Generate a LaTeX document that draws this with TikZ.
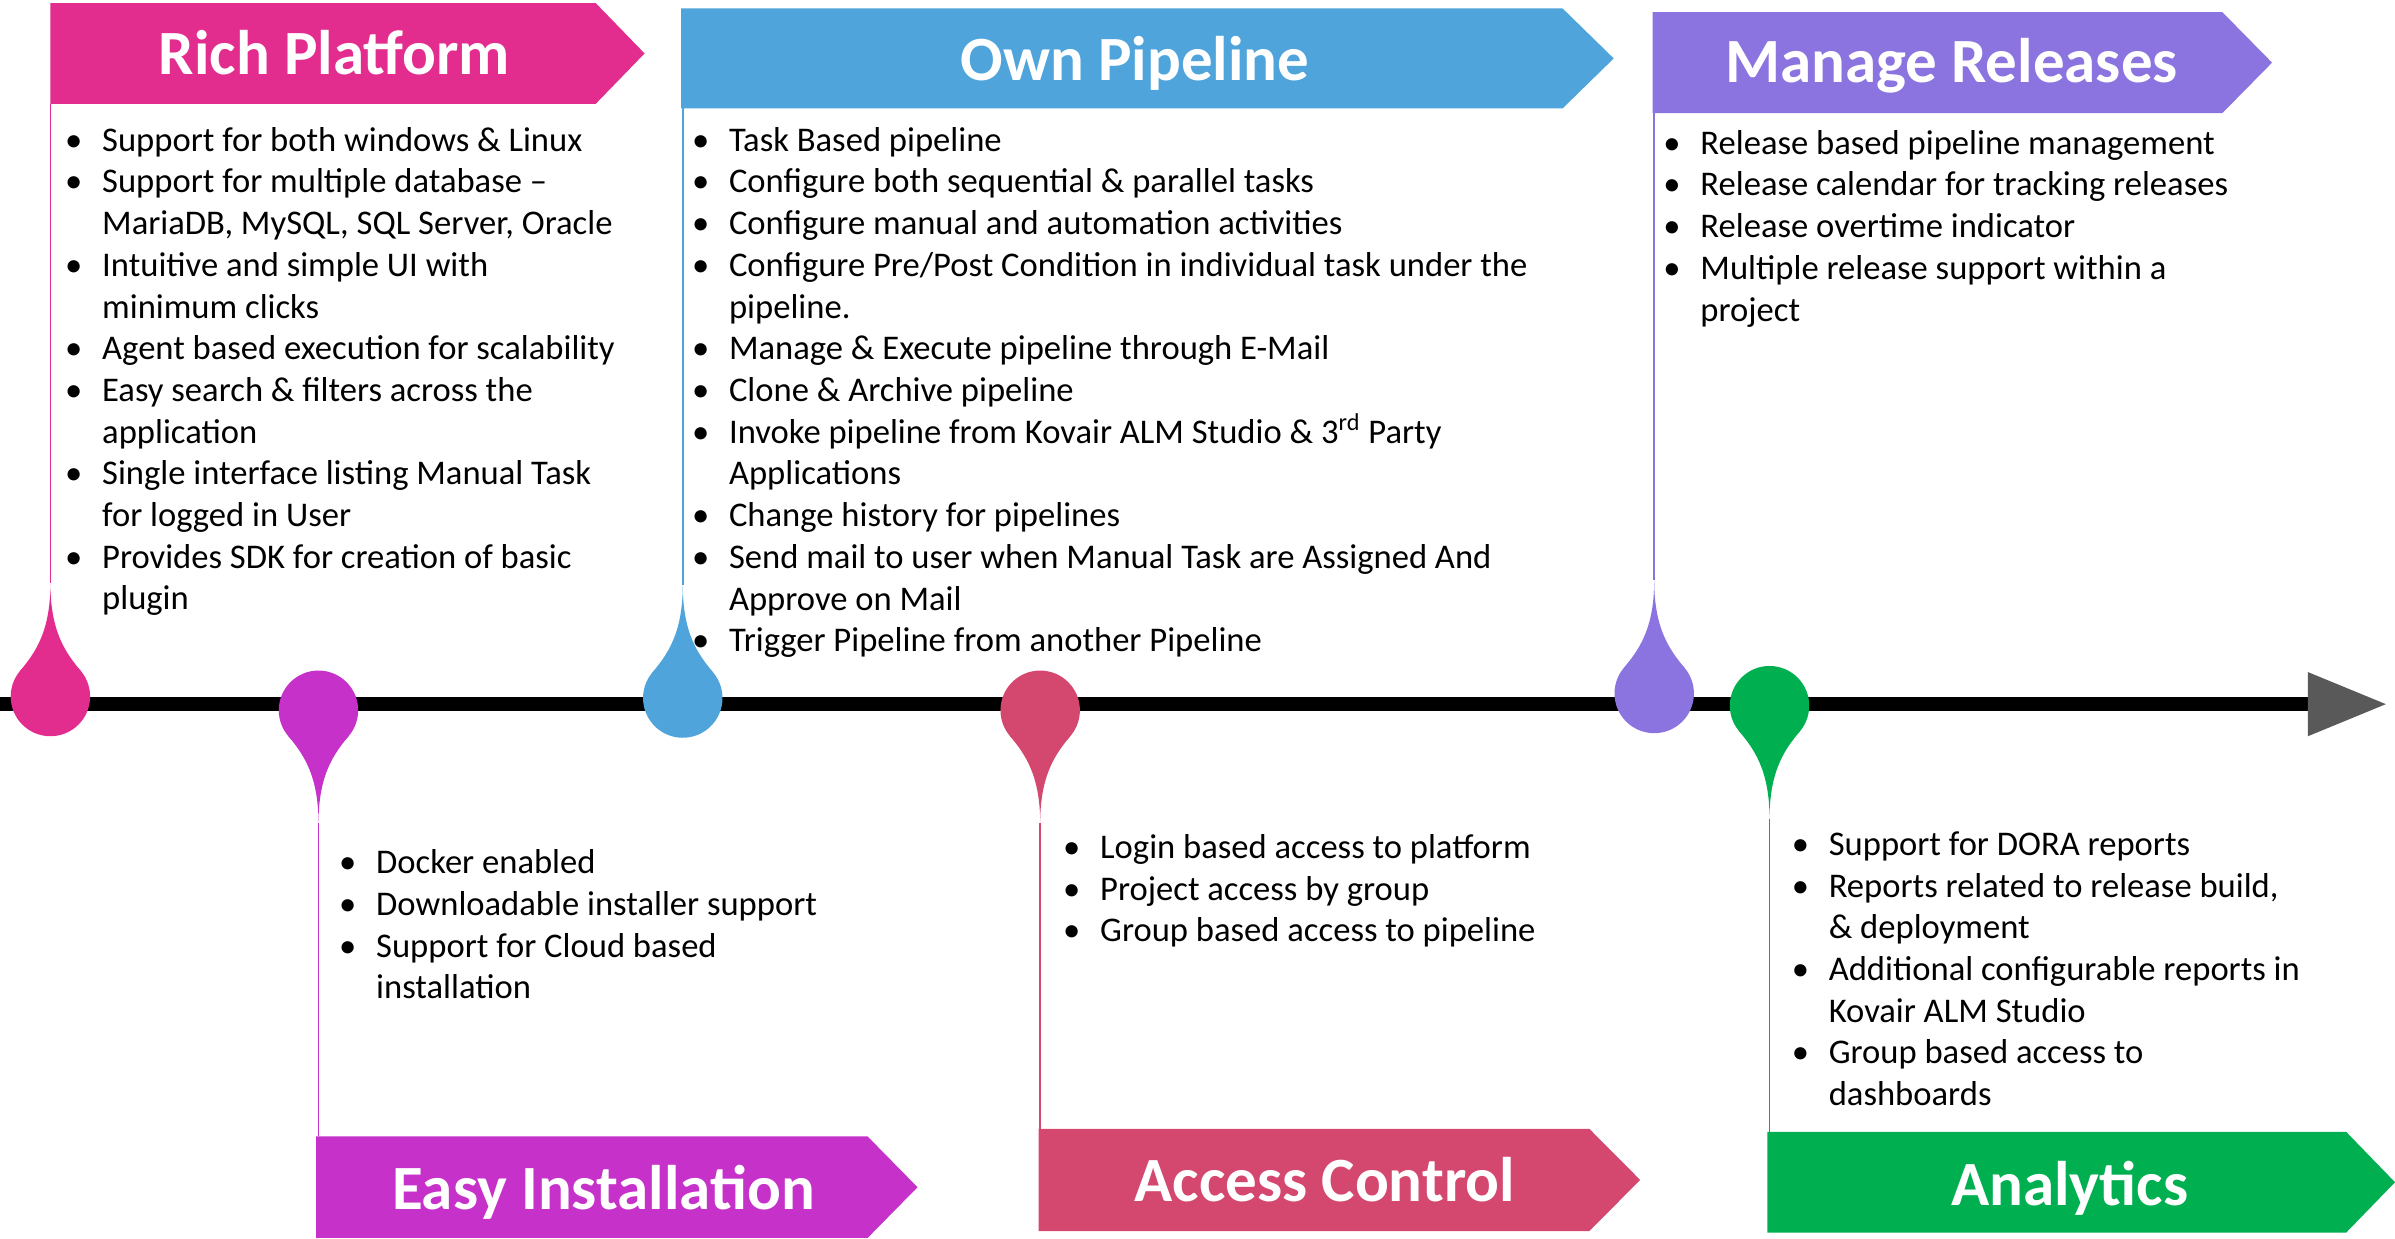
\documentclass[tikz,border=0pt]{standalone}
\usepackage{fontspec}
\setmainfont{Carlito}
\usetikzlibrary{calc}
\definecolor{cRich}{HTML}{E22D8F}
\definecolor{cEasy}{HTML}{C531C9}
\definecolor{cOwn}{HTML}{4FA5DB}
\definecolor{cAccess}{HTML}{D4486F}
\definecolor{cManage}{HTML}{8B73E0}
\definecolor{cAnalytics}{HTML}{00B050}
\definecolor{cArrow}{HTML}{595959}
\newcommand\mybanner[7]{% name, color, left, top, bottom, bodyend, tip
  \fill[#2] (#3,#4) -- (#6,#4) -- ({#7},{(#4+#5)/2}) -- (#6,#5) -- (#3,#5) -- cycle;
  \coordinate (#1) at (#3,{(#4+#5)/2});
}
\newcommand\droppin[5]{% name, color, cx, cy, dir (1 up, -1 down)
  \fill[#2] (#3,#4) circle[radius=26];
  \fill[#2] ({#3},{#4-#5*74}) .. controls ({#3},{#4-#5*42}) and ({#3+10.3},{#4-#5*28.3}) .. ({#3+19.9},{#4-#5*16.7})
     -- (#3,#4) -- ({#3-19.9},{#4-#5*16.7}) .. controls ({#3-10.3},{#4-#5*28.3}) and ({#3},{#4-#5*42}) .. cycle;
  \coordinate (#1) at ({#3},{#4-#5*74});
}
\tikzset{
  x=0.7637pt, y=-0.7637pt,
  titletext/.style={text=white, font=\fontsize{31.5}{36}\selectfont\bfseries, inner sep=0pt, anchor=base},
  bullets/.style={inner sep=0pt, anchor=base west, font=\fontsize{17.3}{20.85}\selectfont},
  stem/.style={draw=#1, line width=0.9pt},
}
\newcommand\bl{\hspace*{2.3pt}\textbullet}
\newcommand\blist[1]{\begin{tabular}[t]{@{}p{20.8pt}@{}l@{}}#1\end{tabular}}
\begin{document}
\begin{tikzpicture}
\useasboundingbox (0,0) rectangle (1568,811);
% banners
\mybanner{bRich}{cRich}{33}{2}{68}{390}{422}
\mybanner{bOwn}{cOwn}{446}{5.5}{71}{1023}{1056.5}
\mybanner{bManage}{cManage}{1082}{8}{74}{1455}{1487.5}
\mybanner{bEasy}{cEasy}{207}{744}{810.5}{568}{600.7}
\mybanner{bAccess}{cAccess}{680}{739}{806}{1040.5}{1073.8}
\mybanner{bAnalytics}{cAnalytics}{1157}{741}{807}{1536}{1568}
% stems
\coordinate (sRich) at (33,68);
\coordinate (sOwn) at (447,71);
\coordinate (sManage) at (1083,74);
\coordinate (sEasy) at (208.5,744);
\coordinate (sAccess) at (681,739);
\coordinate (sAnalytics) at (1158.5,741);
% timeline
\coordinate (tStart) at (0,461);
\coordinate (tEnd) at (1511,461);
\draw[line width=6.9pt] (tStart) -- (tEnd);
\fill[cArrow] (1511,440) -- (1562,461) -- (1511,482) -- cycle;
% pins
\droppin{pRich}{cRich}{33}{456}{1}
\droppin{pOwn}{cOwn}{447}{457}{1}
\droppin{pManage}{cManage}{1083}{454}{1}
\droppin{pEasy}{cEasy}{208.5}{465}{-1}
\droppin{pAccess}{cAccess}{681}{465}{-1}
\droppin{pAnalytics}{cAnalytics}{1158.5}{462}{-1}
\draw[stem=cRich] (sRich) -- (pRich);
\draw[stem=cOwn] (sOwn) -- (pOwn);
\draw[stem=cManage] (sManage) -- (pManage);
\draw[stem=cEasy] (pEasy) -- (sEasy);
\draw[stem=cAccess] (pAccess) -- (sAccess);
\draw[stem=cAnalytics] (pAnalytics) -- (sAnalytics);
% titles
\node[titletext] (tRich) at (219,49) {Rich Platform};
\node[titletext] (tOwn) at (743,52.4) {Own Pipeline};
\node[titletext] (tManage) at (1277.6,54) {Manage Releases};
\node[titletext] (tEasy) at (395,791.6) {Easy Installation};
\node[titletext] (tAccess) at (867.4,786.8) {Access Control};
\node[titletext] (tAnalytics) at (1355,789) {Analytics};
% lists
\node[bullets] (lRich) at (39.4,99) {\blist{%
\bl & Support for both windows \& Linux\\
\bl & Support for multiple database --\\
 & MariaDB, MySQL, SQL Server, Oracle\\
\bl & Intuitive and simple UI with\\
 & minimum clicks\\
\bl & Agent based execution for scalability\\
\bl & Easy search \& filters across the\\
 & application\\
\bl & Single interface listing Manual Task\\
 & for logged in User\\
\bl & Provides SDK for creation of basic\\
 & plugin}};
\node[bullets] (lOwn) at (449.8,99) {\blist{%
\bl & Task Based pipeline\\
\bl & Configure both sequential \& parallel tasks\\
\bl & Configure manual and automation activities\\
\bl & Configure Pre/Post Condition in individual task under the\\
 & pipeline.\\
\bl & Manage \& Execute pipeline through E-Mail\\
\bl & Clone \& Archive pipeline\\
\bl & Invoke pipeline from Kovair ALM Studio \& 3\textsuperscript{rd} Party\\
 & Applications\\
\bl & Change history for pipelines\\
\bl & Send mail to user when Manual Task are Assigned And\\
 & Approve on Mail\\
\bl & Trigger Pipeline from another Pipeline}};
\node[bullets] (lManage) at (1085.8,101) {\blist{%
\bl & Release based pipeline management\\
\bl & Release calendar for tracking releases\\
\bl & Release overtime indicator\\
\bl & Multiple release support within a\\
 & project}};
\node[bullets] (lEasy) at (218.8,572) {\blist{%
\bl & Docker enabled\\
\bl & Downloadable installer support\\
\bl & Support for Cloud based\\
 & installation}};
\node[bullets] (lAccess) at (692.8,562) {\blist{%
\bl & Login based access to platform\\
\bl & Project access by group\\
\bl & Group based access to pipeline}};
\node[bullets] (lAnalytics) at (1169.8,560) {\blist{%
\bl & Support for DORA reports\\
\bl & Reports related to release build,\\
 & \& deployment\\
\bl & Additional configurable reports in\\
 & Kovair ALM Studio\\
\bl & Group based access to\\
 & dashboards}};
\end{tikzpicture}
\end{document}
